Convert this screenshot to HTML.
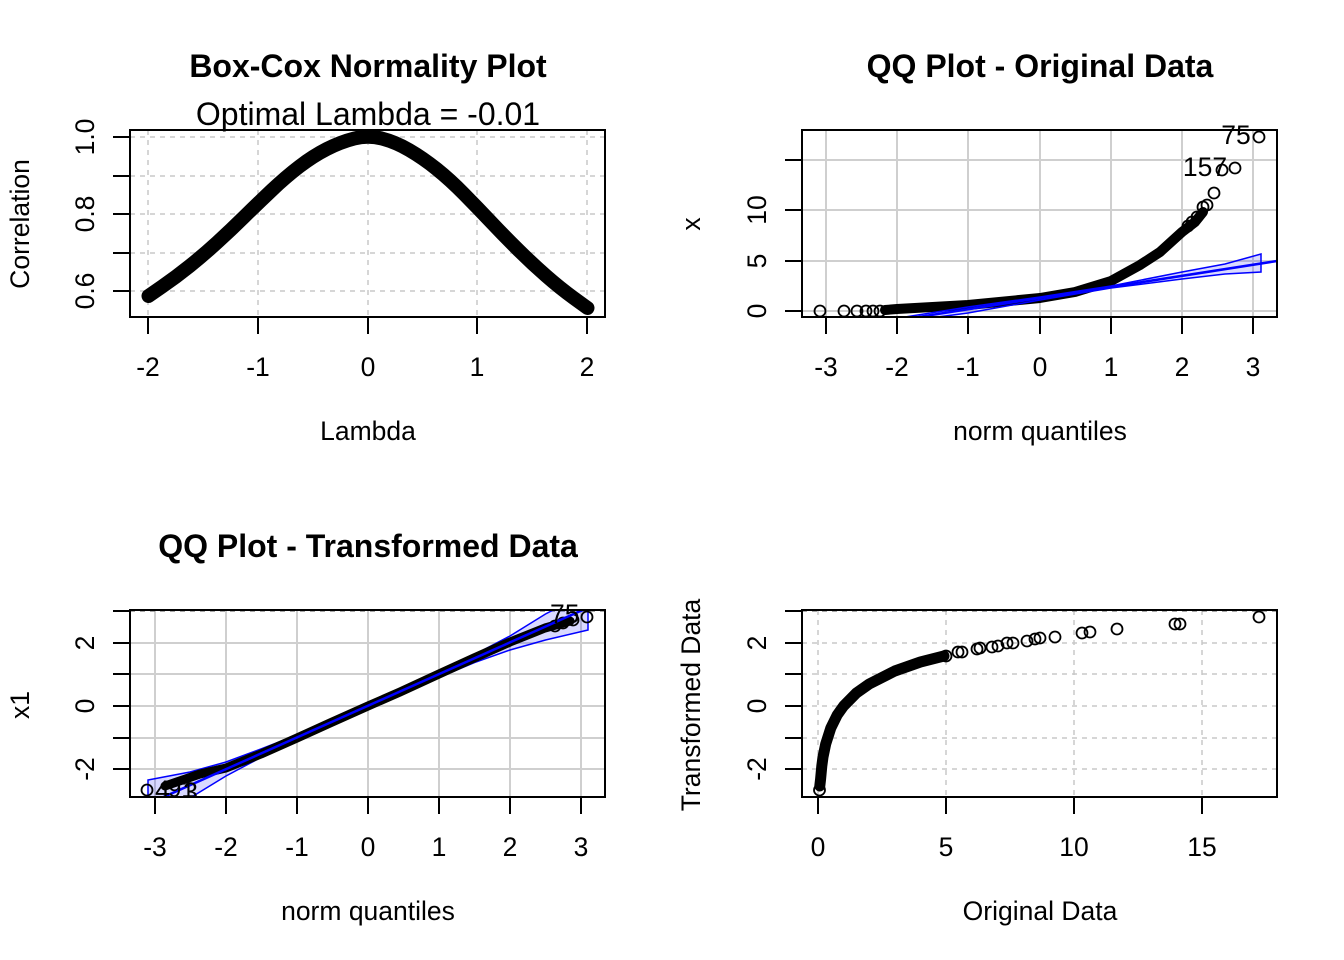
<!DOCTYPE html>
<html><head><meta charset="utf-8"><style>
html,body{margin:0;padding:0;background:#fff;}
svg{display:block;font-family:"Liberation Sans",Arial,sans-serif;}
</style></head><body>
<svg width="1344" height="960" viewBox="0 0 1344 960" xmlns="http://www.w3.org/2000/svg">
<defs>
<clipPath id="c1"><rect x="130" y="130" width="475" height="187"/></clipPath>
<clipPath id="c2"><rect x="802" y="130" width="475" height="187"/></clipPath>
<clipPath id="c3"><rect x="130" y="610" width="475" height="187"/></clipPath>
<clipPath id="c4"><rect x="802" y="610" width="475" height="187"/></clipPath>
</defs>

<!-- ===== Panel 1 ===== -->
<text x="368" y="77" font-size="32" font-weight="bold" text-anchor="middle">Box-Cox Normality Plot</text>
<text x="368" y="125" font-size="32" text-anchor="middle">Optimal Lambda = -0.01</text>
<g stroke="#c8c8c8" stroke-width="1.5" stroke-dasharray="5,5" fill="none">
<line x1="148" y1="130" x2="148" y2="317"/><line x1="258" y1="130" x2="258" y2="317"/><line x1="368" y1="130" x2="368" y2="317"/><line x1="477" y1="130" x2="477" y2="317"/><line x1="587" y1="130" x2="587" y2="317"/>
<line x1="130" y1="137" x2="605" y2="137"/><line x1="130" y1="176" x2="605" y2="176"/><line x1="130" y1="214" x2="605" y2="214"/><line x1="130" y1="253" x2="605" y2="253"/><line x1="130" y1="291" x2="605" y2="291"/>
</g>
<g clip-path="url(#c1)">
<path fill="none" stroke="#000" stroke-width="14" stroke-linecap="round" stroke-linejoin="round"
d="M148.5,296 L162.2,286.5 Q176,277 189.7,266 Q203.4,255 217.1,242.5 Q230.8,230 244.5,216.5 Q258.3,203 272,190 Q285.7,177 299.4,166.5 Q313.1,156 326.8,149 Q340.6,142 354.3,138.5 Q368,135 381.7,138.5 Q395.4,142 409.1,150 Q422.9,158 436.6,169 Q450.3,180 464,194 Q477.8,208 491.5,222.5 Q505.2,237 518.9,250.5 Q532.6,264 546.3,276 Q560,288 573.7,298 L587.5,308"/>
</g>
<rect x="130" y="130" width="475" height="187" fill="none" stroke="#000" stroke-width="2"/>
<g stroke="#000" stroke-width="2">
<line x1="148" y1="317" x2="148" y2="334"/><line x1="258" y1="317" x2="258" y2="334"/><line x1="368" y1="317" x2="368" y2="334"/><line x1="477" y1="317" x2="477" y2="334"/><line x1="587" y1="317" x2="587" y2="334"/>
<line x1="113" y1="137" x2="130" y2="137"/><line x1="113" y1="176" x2="130" y2="176"/><line x1="113" y1="214" x2="130" y2="214"/><line x1="113" y1="253" x2="130" y2="253"/><line x1="113" y1="291" x2="130" y2="291"/>
</g>
<g font-size="26.5" text-anchor="middle">
<text x="148" y="376">-2</text><text x="258" y="376">-1</text><text x="368" y="376">0</text><text x="477" y="376">1</text><text x="587" y="376">2</text>
<text x="368" y="440">Lambda</text>
<text transform="translate(94,291) rotate(-90)">0.6</text>
<text transform="translate(94,214) rotate(-90)">0.8</text>
<text transform="translate(94,137) rotate(-90)">1.0</text>
<text transform="translate(29,224) rotate(-90)">Correlation</text>
</g>

<!-- ===== Panel 2 ===== -->
<text x="1040" y="77" font-size="32" font-weight="bold" text-anchor="middle">QQ Plot - Original Data</text>
<g stroke="#cfcfcf" stroke-width="2" fill="none">
<line x1="826" y1="130" x2="826" y2="317"/><line x1="897" y1="130" x2="897" y2="317"/><line x1="968" y1="130" x2="968" y2="317"/><line x1="1040" y1="130" x2="1040" y2="317"/><line x1="1111" y1="130" x2="1111" y2="317"/><line x1="1182" y1="130" x2="1182" y2="317"/><line x1="1253" y1="130" x2="1253" y2="317"/>
<line x1="802" y1="311" x2="1277" y2="311"/><line x1="802" y1="261" x2="1277" y2="261"/><line x1="802" y1="210" x2="1277" y2="210"/><line x1="802" y1="160" x2="1277" y2="160"/>
</g>
<g clip-path="url(#c2)">
<polyline fill="none" stroke="#000" stroke-width="10" stroke-linecap="round" stroke-linejoin="round"
points="885,310 897,309 968,305 1040,298 1075,292 1111,281 1140,265 1160,252 1182,232 1195,222 1203,212"/>
<g fill="none" stroke="#000" stroke-width="1.8">
<circle cx="820" cy="311" r="5.5"/><circle cx="844" cy="311" r="5.5"/><circle cx="857" cy="311" r="5.5"/><circle cx="866" cy="311" r="5.5"/><circle cx="873" cy="311" r="5.5"/><circle cx="880" cy="311" r="5.5"/>
<circle cx="1188" cy="226" r="5.5"/><circle cx="1192" cy="222" r="5.5"/><circle cx="1197" cy="217" r="5.5"/><circle cx="1203" cy="207" r="5.5"/><circle cx="1207" cy="205" r="5.5"/><circle cx="1214" cy="193" r="5.5"/>
<circle cx="1222" cy="170" r="5.5"/><circle cx="1235" cy="168" r="5.5"/><circle cx="1259" cy="137" r="5.5"/>
</g>
<polygon fill="rgba(0,0,255,0.15)" stroke="#0000ff" stroke-width="1.5"
points="880,321 968,307 1040,297 1111,286 1182,272 1225,264 1261,254 1261,272 1225,274 1182,279 1111,288 1040,300 968,313 900,322"/>
<line x1="880" y1="323" x2="1277" y2="261" stroke="#0000ff" stroke-width="2.5"/>
</g>
<text x="1236" y="144" font-size="26.5" text-anchor="middle">75</text>
<text x="1205" y="176" font-size="26.5" text-anchor="middle">157</text>
<rect x="802" y="130" width="475" height="187" fill="none" stroke="#000" stroke-width="2"/>
<g stroke="#000" stroke-width="2">
<line x1="826" y1="317" x2="826" y2="334"/><line x1="897" y1="317" x2="897" y2="334"/><line x1="968" y1="317" x2="968" y2="334"/><line x1="1040" y1="317" x2="1040" y2="334"/><line x1="1111" y1="317" x2="1111" y2="334"/><line x1="1182" y1="317" x2="1182" y2="334"/><line x1="1253" y1="317" x2="1253" y2="334"/>
<line x1="785" y1="311" x2="802" y2="311"/><line x1="785" y1="261" x2="802" y2="261"/><line x1="785" y1="210" x2="802" y2="210"/><line x1="785" y1="160" x2="802" y2="160"/>
</g>
<g font-size="26.5" text-anchor="middle">
<text x="826" y="376">-3</text><text x="897" y="376">-2</text><text x="968" y="376">-1</text><text x="1040" y="376">0</text><text x="1111" y="376">1</text><text x="1182" y="376">2</text><text x="1253" y="376">3</text>
<text x="1040" y="440">norm quantiles</text>
<text transform="translate(766,311) rotate(-90)">0</text>
<text transform="translate(766,261) rotate(-90)">5</text>
<text transform="translate(766,210) rotate(-90)">10</text>
<text transform="translate(700,224) rotate(-90)">x</text>
</g>

<!-- ===== Panel 3 ===== -->
<text x="368" y="557" font-size="32" font-weight="bold" text-anchor="middle">QQ Plot - Transformed Data</text>
<g stroke="#cfcfcf" stroke-width="2" fill="none">
<line x1="155" y1="610" x2="155" y2="797"/><line x1="226" y1="610" x2="226" y2="797"/><line x1="297" y1="610" x2="297" y2="797"/><line x1="368" y1="610" x2="368" y2="797"/><line x1="439" y1="610" x2="439" y2="797"/><line x1="510" y1="610" x2="510" y2="797"/><line x1="581" y1="610" x2="581" y2="797"/>
<line x1="130" y1="643" x2="605" y2="643"/><line x1="130" y1="674" x2="605" y2="674"/><line x1="130" y1="706" x2="605" y2="706"/><line x1="130" y1="738" x2="605" y2="738"/><line x1="130" y1="769" x2="605" y2="769"/>
</g>
<line x1="130" y1="611" x2="605" y2="611" stroke="#888" stroke-width="1.5" stroke-dasharray="5,5"/>
<g clip-path="url(#c3)">
<polygon fill="rgba(0,0,255,0.15)" stroke="#0000ff" stroke-width="1.5"
points="148,780 190,772 226,762 261,749 297,735 368,703.5 439,671.4 474.5,654.6 510,636 545.5,614 588,592 588,630 545.5,640 510,650 474.5,662.6 439,677.4 368,708.5 297,740.6 261,757.4 226,776 190,798 148,828"/>
<polyline fill="none" stroke="#000" stroke-width="9" stroke-linecap="round" stroke-linejoin="round"
points="165,786 200,774 226,768 261,754 297,738 330,723 368,706 400,692 439,674 474,658 510,642 545,628 570,621"/>
<g fill="none" stroke="#000" stroke-width="1.8">
<circle cx="147" cy="790" r="5.5"/><circle cx="587" cy="617" r="5.5"/><circle cx="573" cy="620" r="5.5"/><circle cx="563" cy="623" r="5.5"/><circle cx="555" cy="626" r="5.5"/>
</g>
<line x1="130" y1="812" x2="605" y2="600" stroke="#0000ff" stroke-width="2.5"/>
<text x="155" y="799" font-size="27">4</text>
<text x="168" y="797" font-size="24">91</text>
<text x="183" y="801" font-size="27">3</text>
</g>
<text x="550" y="623" font-size="26.5">75</text>
<rect x="130" y="610" width="475" height="187" fill="none" stroke="#000" stroke-width="2"/>
<g stroke="#000" stroke-width="2">
<line x1="155" y1="797" x2="155" y2="814"/><line x1="226" y1="797" x2="226" y2="814"/><line x1="297" y1="797" x2="297" y2="814"/><line x1="368" y1="797" x2="368" y2="814"/><line x1="439" y1="797" x2="439" y2="814"/><line x1="510" y1="797" x2="510" y2="814"/><line x1="581" y1="797" x2="581" y2="814"/>
<line x1="113" y1="643" x2="130" y2="643"/><line x1="113" y1="674" x2="130" y2="674"/><line x1="113" y1="706" x2="130" y2="706"/><line x1="113" y1="738" x2="130" y2="738"/><line x1="113" y1="769" x2="130" y2="769"/><line x1="113" y1="611" x2="130" y2="611"/>
</g>
<g font-size="26.5" text-anchor="middle">
<text x="155" y="856">-3</text><text x="226" y="856">-2</text><text x="297" y="856">-1</text><text x="368" y="856">0</text><text x="439" y="856">1</text><text x="510" y="856">2</text><text x="581" y="856">3</text>
<text x="368" y="920">norm quantiles</text>
<text transform="translate(94,643) rotate(-90)">2</text>
<text transform="translate(94,706) rotate(-90)">0</text>
<text transform="translate(94,769) rotate(-90)">-2</text>
<text transform="translate(29,705) rotate(-90)">x1</text>
</g>

<!-- ===== Panel 4 ===== -->
<g stroke="#c8c8c8" stroke-width="1.5" stroke-dasharray="5,5" fill="none">
<line x1="818" y1="610" x2="818" y2="797"/><line x1="946" y1="610" x2="946" y2="797"/><line x1="1074" y1="610" x2="1074" y2="797"/><line x1="1202" y1="610" x2="1202" y2="797"/>
<line x1="802" y1="643" x2="1277" y2="643"/><line x1="802" y1="674" x2="1277" y2="674"/><line x1="802" y1="706" x2="1277" y2="706"/><line x1="802" y1="738" x2="1277" y2="738"/><line x1="802" y1="769" x2="1277" y2="769"/>
</g>
<line x1="802" y1="611" x2="1277" y2="611" stroke="#888" stroke-width="1.5" stroke-dasharray="5,5"/>
<g clip-path="url(#c4)">
<polyline fill="none" stroke="#000" stroke-width="11" stroke-linecap="round" stroke-linejoin="round"
points="819.8,786 820.6,779 821.8,766 823,757 825.7,744 830.8,728 837.2,715 843.6,706 856.4,693 869.2,684 894.8,671 920.4,662 944,656"/>
<g fill="none" stroke="#000" stroke-width="1.8">
<circle cx="819.5" cy="790" r="5.5"/>
<circle cx="946" cy="656" r="5.5"/><circle cx="958" cy="652" r="5.5"/><circle cx="962" cy="652" r="5.5"/><circle cx="977" cy="649" r="5.5"/><circle cx="980" cy="648" r="5.5"/><circle cx="992" cy="647" r="5.5"/><circle cx="998" cy="646" r="5.5"/><circle cx="1007" cy="643" r="5.5"/><circle cx="1013" cy="643" r="5.5"/><circle cx="1027" cy="641" r="5.5"/><circle cx="1035" cy="639" r="5.5"/><circle cx="1040" cy="638" r="5.5"/><circle cx="1055" cy="637" r="5.5"/><circle cx="1082" cy="633" r="5.5"/><circle cx="1090" cy="632" r="5.5"/><circle cx="1117" cy="629" r="5.5"/><circle cx="1175" cy="624" r="5.5"/><circle cx="1180" cy="624" r="5.5"/><circle cx="1259" cy="617" r="5.5"/>
</g>
</g>
<rect x="802" y="610" width="475" height="187" fill="none" stroke="#000" stroke-width="2"/>
<g stroke="#000" stroke-width="2">
<line x1="818" y1="797" x2="818" y2="814"/><line x1="946" y1="797" x2="946" y2="814"/><line x1="1074" y1="797" x2="1074" y2="814"/><line x1="1202" y1="797" x2="1202" y2="814"/>
<line x1="785" y1="643" x2="802" y2="643"/><line x1="785" y1="674" x2="802" y2="674"/><line x1="785" y1="706" x2="802" y2="706"/><line x1="785" y1="738" x2="802" y2="738"/><line x1="785" y1="769" x2="802" y2="769"/><line x1="785" y1="611" x2="802" y2="611"/>
</g>
<g font-size="26.5" text-anchor="middle">
<text x="818" y="856">0</text><text x="946" y="856">5</text><text x="1074" y="856">10</text><text x="1202" y="856">15</text>
<text x="1040" y="920">Original Data</text>
<text transform="translate(766,643) rotate(-90)">2</text>
<text transform="translate(766,706) rotate(-90)">0</text>
<text transform="translate(766,769) rotate(-90)">-2</text>
<text transform="translate(700,705) rotate(-90)">Transformed Data</text>
</g>
</svg>
</body></html>
